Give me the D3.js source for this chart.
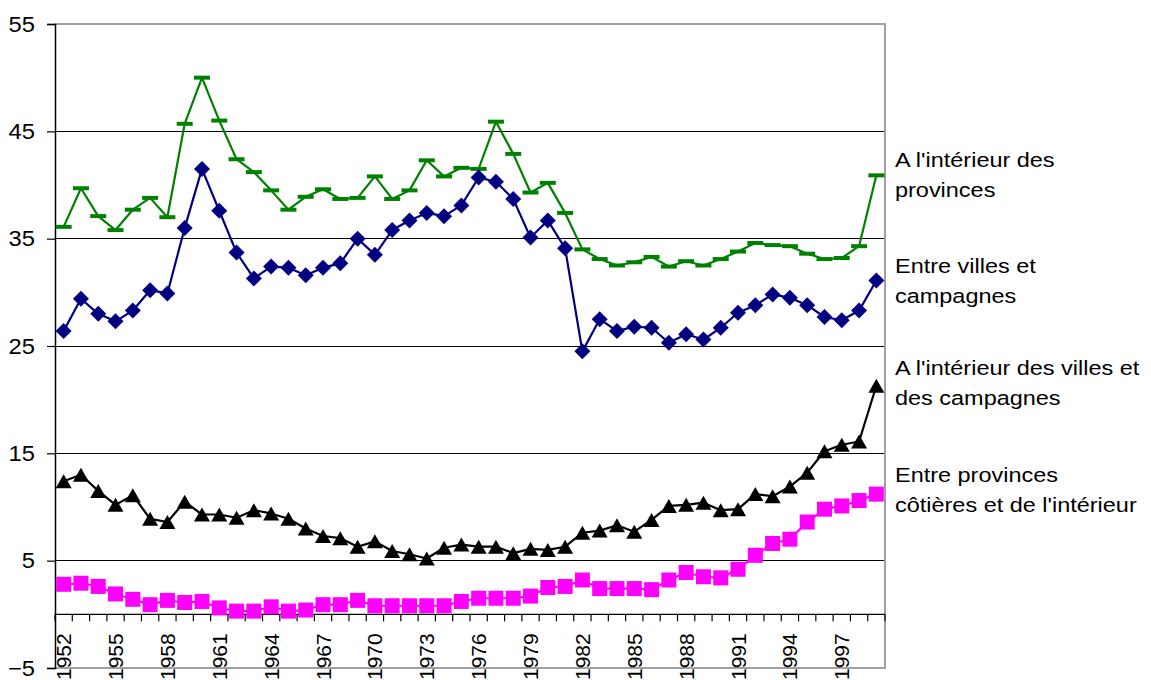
<!DOCTYPE html>
<html>
<head>
<meta charset="utf-8">
<script src="https://cdn.jsdelivr.net/npm/d3@7"></script>
<style>
  html, body { margin: 0; padding: 0; background: #fff; }
  svg { display: block; font-family: "Liberation Sans", Arial, sans-serif; }
</style>
</head>
<body>
<svg id="chart" width="1151" height="680"></svg>
<script>
const years = d3.range(1952, 2000);
const labelYears = [1952,1955,1958,1961,1964,1967,1970,1973,1976,1979,1982,1985,1988,1991,1994,1997];
const yTicks = [-5, 5, 15, 25, 35, 45, 55];

const interieurProvinces = [36.1,39.7,37.1,35.8,37.7,38.8,37.0,45.7,50.0,46.0,42.4,41.2,39.5,37.7,38.9,39.6,38.7,38.8,40.8,38.7,39.5,42.3,40.8,41.6,41.5,45.9,42.9,39.3,40.2,37.4,34.0,33.1,32.5,32.8,33.3,32.4,32.9,32.5,33.1,33.8,34.6,34.4,34.3,33.6,33.1,33.2,34.3,40.9];
const villesCampagnes = [26.4,29.4,28.0,27.3,28.3,30.2,29.9,36.0,41.5,37.6,33.7,31.3,32.4,32.3,31.6,32.3,32.7,35.0,33.5,35.8,36.7,37.4,37.1,38.1,40.7,40.3,38.7,35.1,36.7,34.1,24.5,27.5,26.4,26.8,26.7,25.3,26.1,25.6,26.7,28.1,28.8,29.8,29.5,28.8,27.7,27.4,28.3,31.1];
const interieurVillesCampagnes = [12.4,13.0,11.5,10.2,11.1,8.9,8.6,10.5,9.3,9.3,9.0,9.7,9.4,8.9,8.0,7.3,7.1,6.3,6.8,5.9,5.6,5.2,6.2,6.5,6.3,6.3,5.7,6.1,6.0,6.3,7.6,7.8,8.3,7.7,8.8,10.1,10.2,10.4,9.7,9.8,11.2,11.0,11.9,13.2,15.2,15.8,16.1,21.3];
const cotieresInterieur = [2.8,2.9,2.6,1.9,1.4,0.9,1.3,1.1,1.2,0.6,0.3,0.3,0.7,0.3,0.4,0.9,0.9,1.3,0.8,0.8,0.8,0.8,0.8,1.2,1.5,1.5,1.5,1.7,2.5,2.6,3.2,2.4,2.4,2.4,2.3,3.2,3.9,3.5,3.4,4.2,5.5,6.6,7.0,8.6,9.8,10.1,10.6,11.2];

const seriesNames = [
  ["A l'intérieur des", "provinces"],
  ["Entre villes et", "campagnes"],
  ["A l'intérieur des villes et", "des campagnes"],
  ["Entre provinces", "côtières et de l'intérieur"]
];

const margin = {left: 55, right: 885, top: 24, bottom: 668};
const svg = d3.select("#chart");

const x = d3.scaleBand().domain(years).range([margin.left, margin.right]).paddingInner(0).paddingOuter(0);
const y = d3.scaleLinear().domain([-5, 55]).range([margin.bottom, margin.top]);
const cx = d => x(d) + x.bandwidth() / 2;

// gridlines
svg.append("g").selectAll("line").data([5, 15, 25, 35, 45]).join("line")
  .attr("x1", margin.left).attr("x2", margin.right)
  .attr("y1", d => y(d)).attr("y2", d => y(d))
  .attr("stroke", "#000").attr("stroke-width", 1).attr("shape-rendering", "crispEdges");

// frame (top, right, bottom) gray
svg.append("path")
  .attr("d", `M${margin.left},${y(55)}H${margin.right}V${y(-5)}H${margin.left}`)
  .attr("fill", "none").attr("stroke", "#a0a0a0").attr("stroke-width", 2);

// y axis
const ySX = 1.08;
const yAxis = svg.append("g").attr("transform", `translate(${margin.left},0)`)
  .call(d3.axisLeft(y).tickValues(yTicks).tickSize(8).tickPadding(11).tickFormat(d3.format("d")));
yAxis.select(".domain").attr("stroke", "#000").attr("stroke-width", 1.5);
yAxis.selectAll(".tick line").attr("stroke", "#000").attr("stroke-width", 1.2);
yAxis.selectAll("text")
  .attr("font-size", 22).attr("fill", "#000").attr("font-family", "Liberation Sans, Arial, sans-serif")
  .attr("x", -20 / ySX).attr("transform", `scale(${ySX},1)`);

// x axis at y=0
const x0 = y(0);
svg.append("line").attr("x1", margin.left).attr("x2", margin.right)
  .attr("y1", x0).attr("y2", x0).attr("stroke", "#000").attr("stroke-width", 1.2);
const boundaries = years.map(d => x(d)).concat([x(years[years.length - 1]) + x.bandwidth()]);
svg.append("g").selectAll("line").data(boundaries).join("line")
  .attr("x1", d => d).attr("x2", d => d)
  .attr("y1", x0).attr("y2", x0 + 7)
  .attr("stroke", "#000").attr("stroke-width", 1.2);
const xAxis = svg.append("g").attr("transform", `translate(0,${x0})`)
  .call(d3.axisBottom(x).tickValues(labelYears).tickSize(0).tickFormat(d3.format("d")));
xAxis.select(".domain").remove();
xAxis.selectAll("text")
  .attr("transform", "rotate(-90)")
  .attr("text-anchor", "end")
  .attr("x", -19).attr("y", 0).attr("dy", "0.36em")
  .attr("font-size", 21).attr("fill", "#000")
  .attr("font-family", "Liberation Sans, Arial, sans-serif");

// symbols
const dashSym = { draw(c) { c.rect(-8, -2, 16, 4); } };
const diamondSym = { draw(c) { const r = 8; c.moveTo(0, -r); c.lineTo(r, 0); c.lineTo(0, r); c.lineTo(-r, 0); c.closePath(); } };
const triSym = { draw(c) { c.moveTo(0, -7); c.lineTo(8, 7); c.lineTo(-8, 7); c.closePath(); } };
const squareSym = { draw(c) { c.rect(-7.5, -7.5, 15, 15); } };

const series = [
  {values: interieurProvinces, color: "#008000", sym: dashSym},
  {values: villesCampagnes, color: "#000080", sym: diamondSym},
  {values: interieurVillesCampagnes, color: "#000000", sym: triSym},
  {values: cotieresInterieur, color: "#ff00ff", sym: squareSym}
];

const line = d3.line().x((d, i) => cx(years[i])).y(d => y(d));

series.forEach(s => {
  const g = svg.append("g");
  g.append("path").datum(s.values).attr("d", line)
    .attr("fill", "none").attr("stroke", s.color).attr("stroke-width", 2.2).attr("stroke-linejoin", "round");
  g.selectAll("path.m").data(s.values).join("path").attr("class", "m")
    .attr("d", d3.symbol().type(s.sym))
    .attr("transform", (d, i) => `translate(${cx(years[i])},${y(d)})`)
    .attr("fill", s.color);
});

// legend texts
const legendY = [167, 273, 375, 482];
const legSX = 1.145;
const leg = svg.append("g").attr("font-size", 20.5).attr("fill", "#000");
seriesNames.forEach((lines, i) => {
  leg.append("text").attr("transform", `translate(895,${legendY[i]}) scale(${legSX},1)`)
    .selectAll("tspan").data(lines).join("tspan")
    .attr("x", 0).attr("y", (d, j) => j * 30).text(d => d);
});
</script>
</body>
</html>
